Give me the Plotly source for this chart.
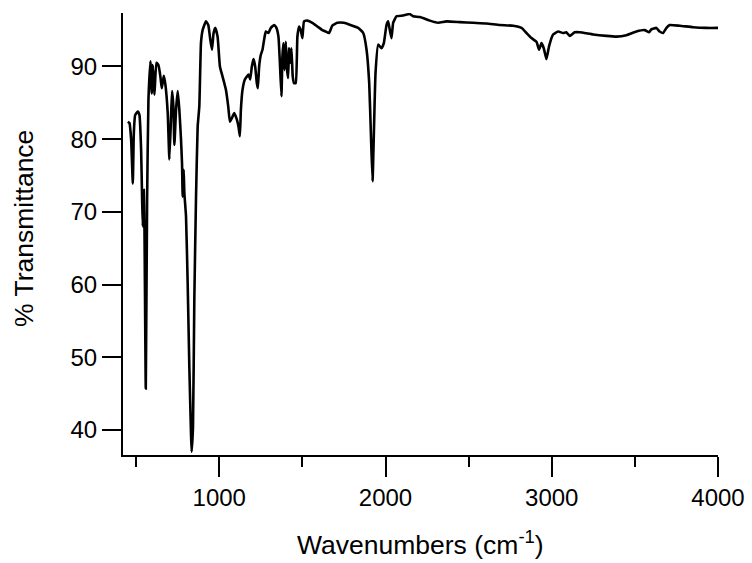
import plotly.graph_objects as go

wavenumbers = [
    450, 460, 470, 480, 486, 494, 510, 520, 530, 536, 540, 546, 550, 558, 566, 574,
    586, 594, 600, 610, 622, 634, 646, 654, 666, 676, 690, 700, 710, 716, 724, 730,
    740, 750, 760, 770, 776, 780, 786, 790, 800, 810, 820, 830, 834, 842, 850, 860,
    870, 880, 890, 900, 920, 934, 946, 956, 966, 976, 990, 1004, 1020, 1040, 1054,
    1064, 1076, 1090, 1106, 1116, 1124, 1130, 1140, 1154, 1166, 1176, 1186, 1196,
    1206, 1216, 1226, 1232, 1240, 1250, 1260, 1270, 1280, 1296, 1310, 1330, 1344,
    1356, 1364, 1374, 1380, 1386, 1392, 1400, 1406, 1414, 1420, 1426, 1434, 1442,
    1450, 1460, 1470, 1480, 1490, 1500, 1510, 1530, 1560, 1590, 1620, 1640, 1660,
    1680, 1710, 1750, 1790, 1836, 1866, 1886, 1902, 1912, 1922, 1930, 1940, 1956,
    1976, 1990, 2006, 2016, 2026, 2036, 2046, 2066, 2106, 2146, 2166, 2207, 2267,
    2317, 2367, 2447, 2527, 2607, 2688, 2768, 2818, 2848, 2878, 2908, 2924, 2938,
    2952, 2968, 2984, 3008, 3038, 3068, 3088, 3108, 3138, 3168, 3249, 3329, 3389,
    3449, 3509, 3559, 3585, 3599, 3629, 3649, 3670, 3690, 3710, 3770, 3850, 3930,
    4000,
]
transmittance = [
    82.4, 82.2, 79.9, 73.9, 80.8, 83.3, 83.8, 83.3, 78.5, 71.7, 68.0, 73.0, 68.0, 45.7, 71.7, 85.4,
    90.7, 86.3, 90.2, 86.1, 90.5, 90.2, 88.6, 87.0, 88.7, 87.5, 83.6, 77.2, 83.1, 86.6, 84.5, 79.2,
    84.0, 86.6, 84.0, 79.9, 76.7, 72.1, 75.8, 72.6, 69.4, 60.2, 48.7, 39.5, 37.0, 40.4, 57.9, 71.7,
    81.7, 84.5, 93.2, 95.0, 96.2, 95.7, 93.7, 92.3, 94.6, 95.3, 94.1, 90.0, 88.6, 86.8, 84.5,
    82.4, 82.9, 83.6, 82.7, 81.7, 80.4, 84.0, 86.8, 88.2, 88.6, 88.9, 88.2, 90.0,
    91.0, 90.0, 87.7, 87.0, 90.0, 91.6, 92.3, 93.7, 94.8, 94.6, 95.3, 95.7, 95.3,
    94.1, 90.9, 85.9, 91.4, 93.2, 89.5, 93.4, 90.0, 88.4, 92.5, 90.5, 92.5, 88.6,
    87.7, 87.7, 94.1, 95.5, 95.0, 93.9, 96.2, 96.3, 96.0, 95.5, 95.0, 94.8, 94.6,
    95.6, 96.0, 96.0, 95.7, 95.3, 94.6, 92.3, 87.7, 80.8, 74.2, 80.8, 89.1, 93.0,
    92.5, 93.2, 95.7, 96.2, 95.0, 93.9, 96.0, 96.9, 97.0, 97.2, 96.9, 96.8, 96.3,
    96.0, 96.2, 96.1, 96.0, 95.9, 95.7, 95.6, 95.3, 94.6, 93.9, 93.4, 92.3, 93.2,
    92.5, 91.0, 92.8, 94.4, 94.8, 94.6, 94.7, 94.2, 94.7, 94.7, 94.4, 94.2, 94.1,
    94.3, 94.8, 95.0, 94.7, 95.1, 95.3, 94.8, 94.6, 95.3, 95.7, 95.6, 95.4, 95.3,
    95.3,
]

x_ticks = [1000, 2000, 3000, 4000]
x_minor_ticks = [500, 1500, 2500, 3500]
y_ticks = [40, 50, 60, 70, 80, 90]
x_title = "Wavenumbers (cm<sup>-1</sup>)"
y_title = "% Transmittance"

font_family = "Liberation Sans, Arial, sans-serif"

L, R, T, B = 123, 34, 13, 108
W, H = 752, 563
pw, ph = W - L - R, H - T - B

fig = go.Figure()
fig.add_trace(go.Scatter(
    x=wavenumbers, y=transmittance, mode="lines",
    line=dict(color="black", width=2.6, shape="spline", smoothing=0.4),
    showlegend=False, hoverinfo="skip",
))

fig.update_layout(
    template="none",
    width=W, height=H,
    margin=dict(l=L, r=R, t=T, b=B, autoexpand=False),
    paper_bgcolor="white", plot_bgcolor="white",
    font=dict(family=font_family, color="black", size=24),
    annotations=[
        dict(text=x_title, xref="paper", yref="paper",
             x=(420.5 - L) / pw, y=(H - B - 543) / ph,
             xanchor="center", yanchor="middle", showarrow=False,
             font=dict(size=26.5, family=font_family, color="black")),
        dict(text=y_title, xref="paper", yref="paper",
             x=(24 - L) / pw, y=(H - B - 229) / ph, textangle=-90,
             xanchor="center", yanchor="middle", showarrow=False,
             font=dict(size=26.5, family=font_family, color="black")),
    ],
)
fig.update_xaxes(
    range=[421, 4000], automargin=False,
    tickmode="array", tickvals=x_ticks, ticktext=[str(v) for v in x_ticks],
    ticks="outside", ticklen=20, tickwidth=2, tickcolor="black",
    showline=True, linewidth=2, linecolor="black", mirror=False,
    showgrid=False, zeroline=False,
    tickfont=dict(size=24),
    minor=dict(tickmode="array", tickvals=x_minor_ticks, ticks="outside",
               ticklen=10, tickwidth=2, tickcolor="black", showgrid=False),
)
fig.update_yaxes(
    range=[36.56, 97.35], automargin=False,
    tickmode="array", tickvals=y_ticks, ticktext=[str(v) for v in y_ticks],
    ticks="outside", ticklen=19, tickwidth=2, tickcolor="black",
    showline=True, linewidth=2, linecolor="black", mirror=False,
    showgrid=False, zeroline=False,
    tickfont=dict(size=24),
)

fig.write_html("out.html")
